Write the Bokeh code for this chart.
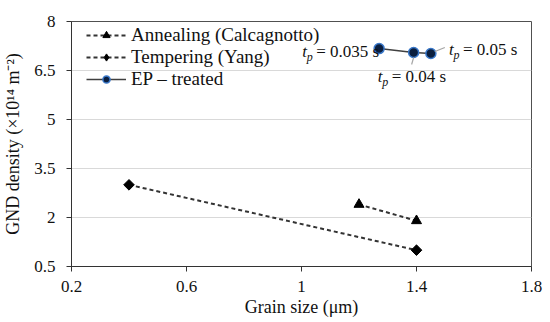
from bokeh.plotting import figure
from bokeh.models import (FixedTicker, CustomJSTickFormatter, Legend, LegendItem,
                          Label, Range1d)
from bokeh.embed import file_html
from bokeh.resources import INLINE
import math

# ---- data ----
anneal_x = [1.2, 1.4]
anneal_y = [2.4, 1.9]
temper_x = [0.4, 1.4]
temper_y = [3.0, 1.0]
ep_x = [1.27, 1.39, 1.45]
ep_y = [7.17, 7.05, 7.02]
ep_tp = ["0.035", "0.04", "0.05"]

x_ticks = [0.2, 0.6, 1.0, 1.4, 1.8]
y_ticks = [0.5, 2, 3.5, 5, 6.5, 8]

FONT = "Liberation Serif"

p = figure(width=550, height=322, output_backend="svg", toolbar_location=None,
           x_range=Range1d(0.2, 1.8), y_range=Range1d(0.5, 8),
           min_border_left=71, min_border_right=19, min_border_top=21, min_border_bottom=56)
p.outline_line_color = "#505050"
p.outline_line_width = 1

fmt = CustomJSTickFormatter(code="return String(Math.round(tick*10)/10)")
for ax, ticks in ((p.xaxis[0], x_ticks), (p.yaxis[0], y_ticks)):
    ax.ticker = FixedTicker(ticks=ticks)
    ax.formatter = fmt
    ax.major_label_text_font = FONT
    ax.major_label_text_font_size = "17px"
    ax.major_label_text_color = "#111111"
    ax.axis_label_text_font = FONT
    ax.axis_label_text_font_size = "18px"
    ax.axis_label_text_font_style = "normal"
    ax.axis_label_text_color = "#111111"
    ax.axis_line_color = "#333333"
    ax.major_tick_line_color = "#333333"
    ax.major_tick_in = 0
    ax.major_tick_out = 5
    ax.minor_tick_line_color = None

p.xaxis.axis_label = "Grain size (μm)"
p.yaxis.axis_label = "GND density (×10¹⁴ m⁻²)"
p.xaxis.major_label_standoff = 9
p.xaxis.axis_label_standoff = 2
p.yaxis.major_label_standoff = 11
p.yaxis.axis_label_standoff = 8

p.xgrid.grid_line_color = None
p.ygrid.ticker = FixedTicker(ticks=y_ticks)
p.ygrid.grid_line_color = "#d9d9d9"
p.ygrid.grid_line_width = 1

# ---- series ----
a_line = p.line(anneal_x, anneal_y, line_color="#333333", line_width=2, line_dash="4 3")
a_mark = p.scatter(anneal_x, anneal_y, marker="triangle", size=10, fill_color="black", line_color="black")

t_line = p.line(temper_x, temper_y, line_color="#333333", line_width=2, line_dash="4 3")
t_mark = p.scatter(temper_x, temper_y, marker="square", angle=math.pi / 4, size=7.5,
                   fill_color="black", line_color="black")
# legend-only diamond (legend glyphs ignore the marker angle)
t_leg = p.scatter([float("nan")], [float("nan")], marker="diamond", size=11,
                  fill_color="black", line_color="black")

e_line = p.line(ep_x, ep_y, line_color="#404040", line_width=1.5)
e_mark = p.scatter(ep_x, ep_y, marker="circle", size=10, fill_color="#0b1f3f",
                   line_color="#3a78c9", line_width=1.5)

# ---- annotations (pixel offsets relative to EP points) ----
PX_X = 1.6 / 460.0
PX_Y = 7.5 / 245.0
text_offsets = [(-77, -3), (-36, -24), (18, 4)]
for xi, yi, tp, (dx, dy) in zip(ep_x, ep_y, ep_tp, text_offsets):
    p.add_layout(Label(x=xi, y=yi, x_offset=dx, y_offset=dy, text="t", text_font=FONT,
                       text_font_style="italic", text_font_size="17px", text_baseline="middle",
                       text_color="#111111"))
    p.add_layout(Label(x=xi, y=yi, x_offset=dx + 4.5, y_offset=dy - 5, text="p", text_font=FONT,
                       text_font_style="italic", text_font_size="12px", text_baseline="middle",
                       text_color="#111111"))
    p.add_layout(Label(x=xi, y=yi, x_offset=dx + 14, y_offset=dy, text="= " + tp + " s",
                       text_font=FONT, text_font_size="17px", text_baseline="middle",
                       text_color="#111111"))

# leader lines (pixel offsets converted to data units)
leaders = [(1, (0, -5), (-2, -12)), (2, (4, 2), (14, 6))]
for idx, (sx0, sy0), (sx1, sy1) in leaders:
    p.segment(x0=[ep_x[idx] + sx0 * PX_X], y0=[ep_y[idx] + sy0 * PX_Y],
              x1=[ep_x[idx] + sx1 * PX_X], y1=[ep_y[idx] + sy1 * PX_Y],
              line_color="#a6a6a6", line_width=1.2)

# ---- legend ----
legend = Legend(items=[
    LegendItem(label="Annealing (Calcagnotto)", renderers=[a_line, a_mark]),
    LegendItem(label="Tempering (Yang)", renderers=[t_line, t_leg]),
    LegendItem(label="EP – treated", renderers=[e_line, e_mark]),
], location=(15, 176))
legend.label_text_font = FONT
legend.label_text_font_size = "19px"
legend.label_text_color = "#111111"
legend.glyph_width = 40
legend.glyph_height = 18
legend.label_height = 18
legend.spacing = 0
legend.padding = 5
legend.margin = 0
legend.label_standoff = 5
legend.border_line_color = None
legend.background_fill_alpha = 0
p.add_layout(legend)

open("out.html", "w").write(file_html(p, INLINE))
